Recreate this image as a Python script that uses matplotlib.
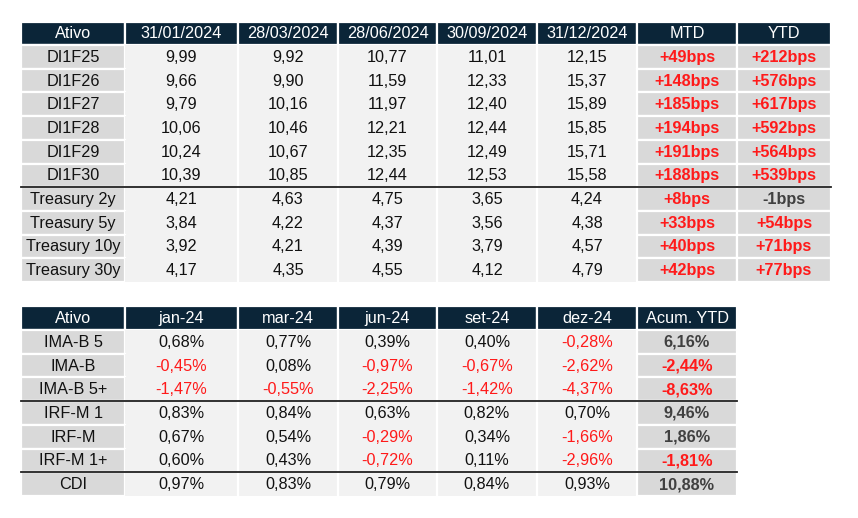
import matplotlib.pyplot as plt
from matplotlib.patches import Rectangle

plt.rcParams['font.family'] = ['Liberation Sans', 'DejaVu Sans']

# --- top table: rates ---
top_header = ['Ativo', '31/01/2024', '28/03/2024', '28/06/2024', '30/09/2024', '31/12/2024', 'MTD', 'YTD']
top_assets = ['DI1F25', 'DI1F26', 'DI1F27', 'DI1F28', 'DI1F29', 'DI1F30',
              'Treasury 2y', 'Treasury 5y', 'Treasury 10y', 'Treasury 30y']
top_values = [
    [9.99, 9.92, 10.77, 11.01, 12.15],
    [9.66, 9.90, 11.59, 12.33, 15.37],
    [9.79, 10.16, 11.97, 12.40, 15.89],
    [10.06, 10.46, 12.21, 12.44, 15.85],
    [10.24, 10.67, 12.35, 12.49, 15.71],
    [10.39, 10.85, 12.44, 12.53, 15.58],
    [4.21, 4.63, 4.75, 3.65, 4.24],
    [3.84, 4.22, 4.37, 3.56, 4.38],
    [3.92, 4.21, 4.39, 3.79, 4.57],
    [4.17, 4.35, 4.55, 4.12, 4.79],
]
mtd_bps = [49, 148, 185, 194, 191, 188, 8, 33, 40, 42]
ytd_bps = [212, 576, 617, 592, 564, 539, -1, 54, 71, 77]

# --- bottom table: index returns ---
bot_header = ['Ativo', 'jan-24', 'mar-24', 'jun-24', 'set-24', 'dez-24', 'Acum. YTD']
bot_assets = ['IMA-B 5', 'IMA-B', 'IMA-B 5+', 'IRF-M 1', 'IRF-M', 'IRF-M 1+', 'CDI']
bot_values = [
    [0.68, 0.77, 0.39, 0.40, -0.28],
    [-0.45, 0.08, -0.97, -0.67, -2.62],
    [-1.47, -0.55, -2.25, -1.42, -4.37],
    [0.83, 0.84, 0.63, 0.82, 0.70],
    [0.67, 0.54, -0.29, 0.34, -1.66],
    [0.60, 0.43, -0.72, 0.11, -2.96],
    [0.97, 0.83, 0.79, 0.84, 0.93],
]
acum_ytd = [6.16, -2.44, -8.63, 9.46, 1.86, -1.81, 10.88]

NAVY = '#0b2538'
GRAY = '#d9d9d9'
LIGHT = '#f2f2f2'
RED = '#ff1a1a'
DARK = '#111111'
BOLDGRAY = '#404040'
FS = 11.7


def num(v, pct=False):
    s = f'{v:.2f}'.replace('.', ',')
    return s + '%' if pct else s


def bps(v):
    return f'{v:+d}bps'


fig = plt.figure(figsize=(8.58, 5.18), dpi=100)
ax = fig.add_axes([0, 0, 1, 1])
ax.set_xlim(0, 858)
ax.set_ylim(518, 0)
ax.axis('off')


def cell(x0, x1, y0, y1, face, text, color, bold=False, edge=True):
    ax.add_patch(Rectangle((x0, y0), x1 - x0, y1 - y0, facecolor=face,
                           edgecolor='white' if edge else 'none', linewidth=1.6))
    ax.text((x0 + x1) / 2, (y0 + y1) / 2 + 0.5, text, ha='center', va='center',
            fontsize=FS, color=color, fontweight='bold' if bold else 'normal')


def vlines(xs, y0, y1):
    for x in xs:
        ax.plot([x, x], [y0, y1], color='white', lw=1.6)


# top table
tx = [21, 125, 238, 338, 437, 537, 637, 737, 831]
ty0, th, rh = 22, 23, 23.7
for j, h in enumerate(top_header):
    cell(tx[j], tx[j + 1], ty0, ty0 + th, NAVY, h, 'white')
for i, a in enumerate(top_assets):
    y0 = ty0 + th + i * rh
    y1 = y0 + rh
    cell(tx[0], tx[1], y0, y1, GRAY, a, DARK)
    for j, v in enumerate(top_values[i]):
        cell(tx[j + 1], tx[j + 2], y0, y1, LIGHT, num(v), DARK, edge=False)
    for j, b in enumerate([mtd_bps[i], ytd_bps[i]]):
        cell(tx[6 + j], tx[7 + j], y0, y1, GRAY, bps(b),
             RED if b > 0 else BOLDGRAY, bold=True)
vlines(tx[2:6], ty0 + th, ty0 + th + len(top_assets) * rh)
ysep = ty0 + th + 6 * rh
ax.plot([tx[0], tx[-1]], [ysep, ysep], color='#222222', lw=1.3)

# bottom table
bx = [21, 125, 238, 338, 437, 537, 637, 737]
by0, bh = 306, 24
for j, h in enumerate(bot_header):
    cell(bx[j], bx[j + 1], by0, by0 + bh, NAVY, h, 'white')
for i, a in enumerate(bot_assets):
    y0 = by0 + bh + i * rh
    y1 = y0 + rh
    cell(bx[0], bx[1], y0, y1, GRAY, a, DARK)
    for j, v in enumerate(bot_values[i]):
        cell(bx[j + 1], bx[j + 2], y0, y1, LIGHT, num(v, True),
             RED if v < 0 else DARK, edge=False)
    cell(bx[6], bx[7], y0, y1, GRAY, num(acum_ytd[i], True),
         RED if acum_ytd[i] < 0 else BOLDGRAY, bold=True)
vlines(bx[2:6], by0 + bh, by0 + bh + len(bot_assets) * rh)
for k in (3, 6):
    ys = by0 + bh + k * rh
    ax.plot([bx[0], bx[-1]], [ys, ys], color='#222222', lw=1.3)

fig.savefig('out.png', dpi=100)
